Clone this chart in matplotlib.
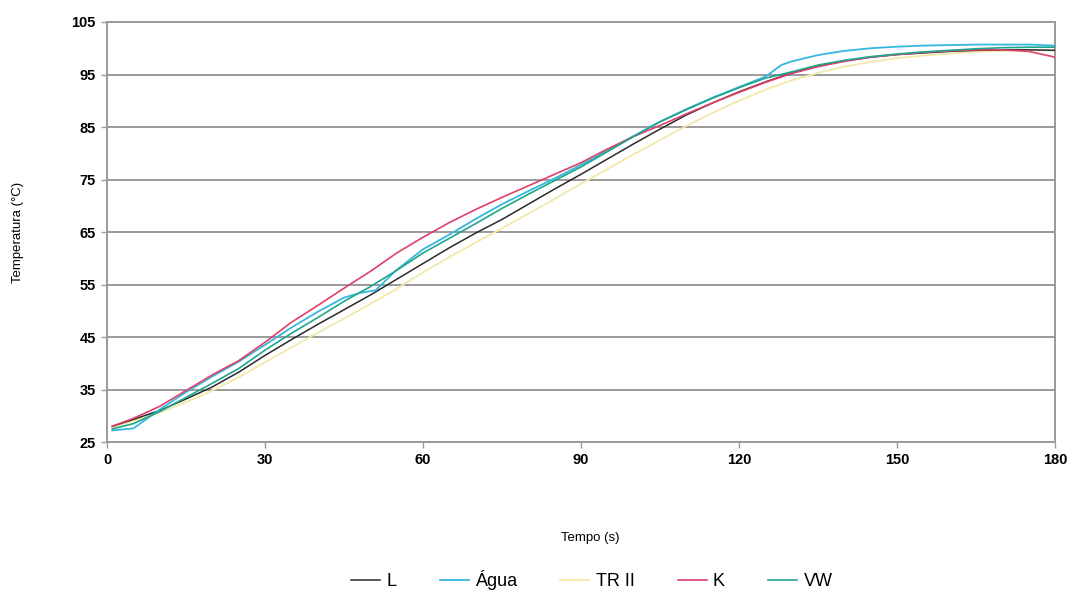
import matplotlib
matplotlib.use("Agg")
import matplotlib.pyplot as plt

plt.rcParams["font.family"] = ["Liberation Sans", "DejaVu Sans"]

# Time (s) sample points
tempo = [1, 5, 10, 15, 20, 25, 30, 35, 40, 45, 50, 55, 60, 65, 70, 75, 80, 85, 90,
         95, 100, 105, 110, 115, 120, 125, 130, 135, 140, 145, 150, 155, 160, 165,
         170, 175, 180]

temp_l = [28.0, 29.3, 31.0, 33.2, 35.5, 38.3, 41.5, 44.5, 47.4, 50.2, 53.0, 56.0,
          59.0, 62.0, 64.8, 67.4, 70.3, 73.2, 76.0, 78.9, 81.8, 84.6, 87.3, 89.6,
          91.7, 93.6, 95.3, 96.6, 97.6, 98.3, 98.8, 99.1, 99.4, 99.6, 99.7, 99.7, 99.6]

temp_tr2 = [27.8, 29.0, 30.6, 32.6, 34.8, 37.3, 40.2, 43.0, 45.8, 48.5, 51.3, 54.2,
            57.3, 60.2, 63.0, 65.7, 68.5, 71.3, 74.2, 77.0, 79.8, 82.5, 85.2, 87.7,
            90.0, 92.1, 93.9, 95.3, 96.5, 97.4, 98.1, 98.6, 99.0, 99.3, 99.5, 99.6, 99.6]

temp_k = [28.0, 29.5, 31.8, 34.8, 37.8, 40.5, 44.0, 47.8, 51.0, 54.3, 57.5, 61.0,
          64.0, 66.8, 69.3, 71.6, 73.8, 76.0, 78.2, 80.8, 83.2, 85.3, 87.5, 89.6,
          91.6, 93.5, 95.2, 96.5, 97.5, 98.3, 98.8, 99.2, 99.5, 99.7, 99.7, 99.4, 98.3]

temp_vw = [27.5, 28.5, 30.8, 33.5, 36.2, 39.0, 42.5, 45.7, 48.7, 51.8, 54.6, 57.7,
           61.0, 63.8, 66.6, 69.5, 72.2, 74.8, 77.4, 80.3, 83.2, 86.0, 88.3, 90.5,
           92.5, 94.3, 95.5, 96.8, 97.7, 98.4, 98.9, 99.3, 99.6, 99.9, 100.1, 100.2, 100.2]

# Água has a small step near 6 s and a jump near 127 s, so it keeps its own time points
tempo_agua = [1, 5, 6, 10, 15, 20, 25, 30, 35, 40, 45, 48, 51, 55, 60, 65, 70, 75, 80,
              85, 90, 95, 100, 105, 110, 115, 120, 125, 126, 128, 130, 135, 140, 145,
              150, 155, 160, 165, 170, 175, 180]
temp_agua = [27.2, 27.6, 28.3, 31.2, 34.5, 37.5, 40.3, 43.5, 46.8, 49.8, 52.5, 53.4,
             53.9, 57.8, 61.7, 64.5, 67.5, 70.3, 72.8, 75.2, 77.8, 80.5, 83.3, 86.0,
             88.4, 90.6, 92.6, 94.6, 95.3, 96.8, 97.5, 98.7, 99.5, 100.0, 100.3, 100.5,
             100.6, 100.7, 100.7, 100.7, 100.5]

x_ticks = [0, 30, 60, 90, 120, 150, 180]
y_ticks = [25, 35, 45, 55, 65, 75, 85, 95, 105]

fig = plt.figure(figsize=(10.78, 6.06), dpi=100)
ax = fig.add_axes([0.0993, 0.2706, 0.8794, 0.6931])

grid_color = "#9a9a9a"
for y in y_ticks:
    ax.axhline(y, color=grid_color, linewidth=1.4, zorder=1)

ax.plot(tempo, temp_l, color="#2b2b2b", linewidth=1.1, label="L", zorder=3)
ax.plot(tempo_agua, temp_agua, color="#35b8e0", linewidth=1.3, label="Água", zorder=3)
ax.plot(tempo, temp_tr2, color="#f2e9a8", linewidth=1.3, label="TR II", zorder=2)
ax.plot(tempo, temp_k, color="#e0406a", linewidth=1.2, label="K", zorder=3)
ax.plot(tempo, temp_vw, color="#1fa58e", linewidth=1.2, label="VW", zorder=3)

ax.set_xlim(0, 180)
ax.set_ylim(25, 105)
ax.set_xticks(x_ticks)
ax.set_yticks(y_ticks)
ax.tick_params(axis="both", direction="out", length=4, width=1.0, color=grid_color,
               labelsize=10.5, pad=4)
for lbl in ax.get_xticklabels() + ax.get_yticklabels():
    lbl.set_fontweight("bold")

for side in ["left", "right", "bottom", "top"]:
    ax.spines[side].set_color(grid_color)
    ax.spines[side].set_linewidth(1.4)

ax.set_ylabel("Temperatura (°C)", fontsize=9.5)
ax.yaxis.set_label_coords(-0.088, 0.5)
ax.set_xlabel("Tempo (s)", fontsize=9.5)
ax.xaxis.set_label_coords(0.51, -0.215)

fig.legend(loc="center", bbox_to_anchor=(0.549, 0.043), ncol=5, frameon=False,
           fontsize=13, handlelength=1.6, handletextpad=0.35, columnspacing=2.4)

fig.savefig("out.png", dpi=100, facecolor="white")
plt.close(fig)
